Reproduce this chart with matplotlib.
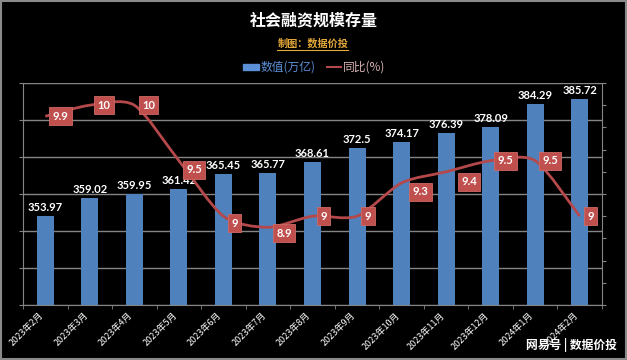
import matplotlib
matplotlib.use("Agg")
import matplotlib.pyplot as plt
from matplotlib.path import Path
from matplotlib.patches import PathPatch, Rectangle
from matplotlib.lines import Line2D
import numpy as np

plt.rcParams['font.family'] = ['Noto Sans CJK SC', 'DejaVu Sans']

# 数据
months = ['2023年2月', '2023年3月', '2023年4月', '2023年5月', '2023年6月', '2023年7月',
          '2023年8月', '2023年9月', '2023年10月', '2023年11月', '2023年12月', '2024年1月', '2024年2月']
stock = [353.97, 359.02, 359.95, 361.42, 365.45, 365.77, 368.61, 372.5, 374.17, 376.39, 378.09, 384.29, 385.72]
yoy = [9.9, 10, 10, 9.5, 9, 8.9, 9, 9, 9.3, 9.4, 9.5, 9.5, 9]
yoy_text = ['9.9', '10', '10', '9.5', '9', '8.9', '9', '9', '9.3', '9.4', '9.5', '9.5', '9']

# 标签偏移 (像素)
lab_dx = [15, 14, 14, 15, 11, 16, 11, 11, 19, 23, 15, 15, 11]
lab_dy = [0, 0, 0, -9, -7, -6, 0, 0, -9, -10, 0, 0, 0]

BLUE = '#4f81bd'
RED = '#c0504d'
GRID = '#858585'

fig = plt.figure(figsize=(6.27, 3.6), dpi=100)
fig.patch.set_facecolor('black')
ax = fig.add_axes([23/627, 1 - 305/360, (602-23)/627, (305-83)/360])
ax.set_facecolor('black')

x = np.arange(len(months))
bars = ax.bar(x, stock, width=0.38, color=BLUE, zorder=2)
ax.set_ylim(330, 390)
ax.set_yticks(np.arange(330, 391, 10))
ax.set_yticklabels([])
ax.set_xlim(-0.5, 12.5)
ax.grid(axis='y', color=GRID, lw=1.0, zorder=0)
ax.tick_params(axis='y', length=3, color=GRID)
ax.set_xticks(x)
ax.set_xticklabels(months, rotation=45, ha='right', va='top', color='white', fontsize=6.5)
ax.tick_params(axis='x', which='major', length=0, pad=4)
ax.set_xticks(np.arange(-0.5, 12.6, 1), minor=True)
ax.tick_params(axis='x', which='minor', length=3, color=GRID)
for s in ['top', 'right']:
    ax.spines[s].set_visible(False)
for s in ['left', 'bottom']:
    ax.spines[s].set_color(GRID)

for xi, v in zip(x, stock):
    ax.annotate(f'{v:g}', (xi, v), xytext=(0, 3), textcoords='offset pixels',
                ha='center', va='bottom', color='white', fontsize=8,
                fontweight='bold', family=['Lato', 'DejaVu Sans'], zorder=3)

ax2 = ax.twinx()
ax2.set_ylim(8.2, 10.2)
ax2.set_yticks(np.arange(8.2, 10.21, 0.2))
ax2.set_yticklabels([])
ax2.tick_params(axis='y', length=3, color=GRID)
for s in ['top', 'left', 'bottom']:
    ax2.spines[s].set_visible(False)
ax2.spines['right'].set_color(GRID)

# 平滑曲线 (Bezier)
pts = np.column_stack([x, yoy]).astype(float)
verts = [pts[0]]
codes = [Path.MOVETO]
n = len(pts)
k = 0.13
for i in range(n - 1):
    p0 = pts[i - 1] if i > 0 else pts[i]
    p1 = pts[i]
    p2 = pts[i + 1]
    p3 = pts[i + 2] if i + 2 < n else pts[i + 1]
    verts += [p1 + (p2 - p0) * k, p2 - (p3 - p1) * k, p2]
    codes += [Path.CURVE4] * 3
ax2.add_patch(PathPatch(Path(verts, codes), facecolor='none', edgecolor='#b5484a', lw=2, zorder=4))

for xi, v, t, dx, dy in zip(x, yoy, yoy_text, lab_dx, lab_dy):
    ax2.annotate(t, (xi, v), xytext=(dx, dy), textcoords='offset pixels',
                 ha='center', va='center', color='white', fontsize=8,
                 fontweight='bold', family=['Lato', 'DejaVu Sans'], zorder=5,
                 bbox=dict(boxstyle='square,pad=0.3', fc=RED, ec='#cf6a66', lw=0.6))

# 标题
fig.text(0.5, 1 - 20/360, '社会融资规模存量', ha='center', va='center', color='white',
         fontsize=11.5, fontweight='bold')
fig.text(0.5, 1 - 43/360, '制图：数据价投', ha='center', va='center', color='#e3a83a',
         fontsize=7.3, fontweight='bold')
fig.add_artist(Line2D([277/627, 348/627], [1 - 50/360, 1 - 50/360], color='#e3a83a', lw=0.8))

# 图例
ly = 1 - 67/360
fig.add_artist(Rectangle((243/627, ly - 3/360), 16/627, 6/360, color='#5b8fd6', transform=fig.transFigure))
fig.text(261/627, ly, '数值(万亿)', ha='left', va='center', color='#5b8fd6', fontsize=8.5)
fig.add_artist(Line2D([327/627, 341/627], [ly, ly], color='#b5484a', lw=1.5))
fig.text(343/627, ly, '同比(%)', ha='left', va='center', color='#d9b3b3', fontsize=8.5)

# 水印
fig.text(617/627, 1 - 345/360, '网易号 | 数据价投', ha='right', va='center', color='white',
         fontsize=8.5, fontweight='bold')

fig.add_artist(Rectangle((0.002, 0.003), 0.996, 0.994, fill=False, ec='#8a8a8a', lw=1.5,
                         transform=fig.transFigure))

fig.savefig('out.png', dpi=100, facecolor='black')
